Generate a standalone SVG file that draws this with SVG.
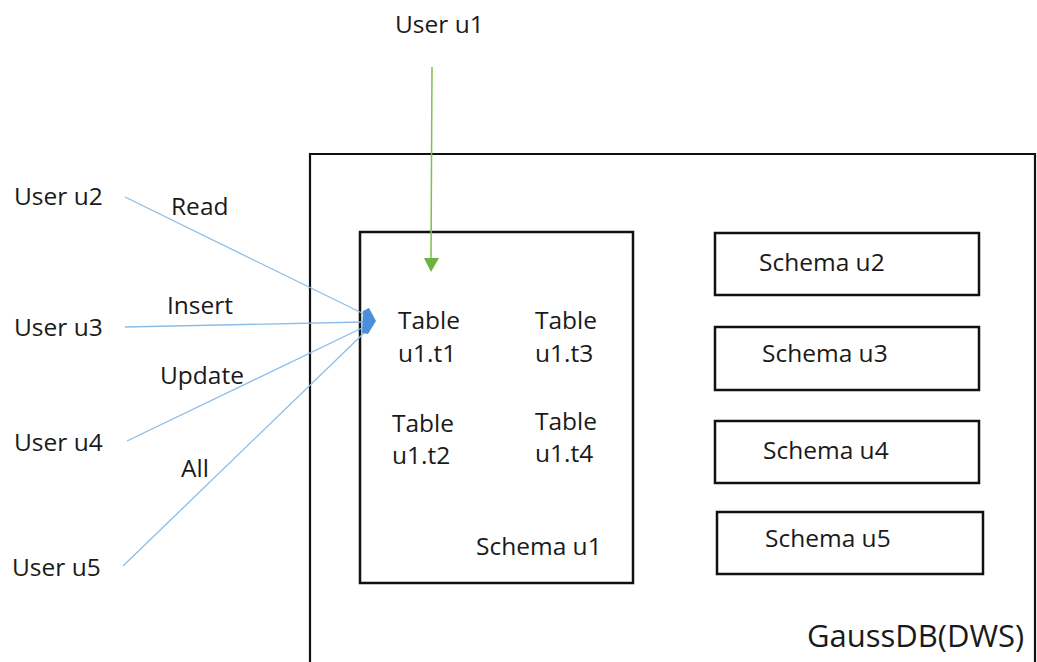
<svg xmlns="http://www.w3.org/2000/svg" width="1037" height="662" viewBox="0 0 1037 662">
<style>
text{font-family:"Open Sans","Noto Sans","Liberation Sans",sans-serif;font-size:24.5px;fill:#1a1a1a}
.box{fill:none;stroke:#111;stroke-width:2.5}
.blue{stroke:#8cbde8;stroke-width:1.3;fill:none}
</style>
<rect width="1037" height="662" fill="#fff"/>
<g id="gaussdb">
<path d="M310,664 L310,154 L1035,154 L1035,664" fill="none" stroke="#111" stroke-width="2.2"/>
<text x="807" y="647" style="font-size:31px">GaussDB(DWS)</text>
</g>
<g id="schema-u1">
<rect class="box" x="360" y="232" width="273" height="351"/>
<text x="476" y="555">Schema u1</text>
</g>
<g id="table-t1"><text x="398" y="329">Table</text><text x="398" y="362">u1.t1</text></g>
<g id="table-t3"><text x="535" y="329">Table</text><text x="535" y="362">u1.t3</text></g>
<g id="table-t2"><text x="392" y="432">Table</text><text x="392" y="464">u1.t2</text></g>
<g id="table-t4"><text x="535" y="430">Table</text><text x="535" y="462">u1.t4</text></g>
<g id="schema-u2"><rect class="box" x="715" y="233" width="264" height="62"/><text x="759" y="271">Schema u2</text></g>
<g id="schema-u3"><rect class="box" x="715" y="327" width="264" height="63"/><text x="762" y="362">Schema u3</text></g>
<g id="schema-u4"><rect class="box" x="715" y="421" width="264" height="62"/><text x="763" y="459">Schema u4</text></g>
<g id="schema-u5"><rect class="box" x="717" y="512" width="266" height="62"/><text x="765" y="547">Schema u5</text></g>
<g id="user-u1"><text x="395" y="33">User u1</text></g>
<g id="user-u2"><text x="14" y="205">User u2</text></g>
<g id="user-u3"><text x="14" y="336">User u3</text></g>
<g id="user-u4"><text x="14" y="451">User u4</text></g>
<g id="user-u5"><text x="12" y="576">User u5</text></g>
<g id="connectors">
<line x1="432" y1="67" x2="431" y2="259" stroke="#7cc24e" stroke-width="1.5"/>
<polygon points="424,258 439,258 431,272" fill="#6ab33e"/>
<line class="blue" x1="125" y1="197" x2="364" y2="314"/>
<line class="blue" x1="125" y1="327" x2="364" y2="322"/>
<line class="blue" x1="127" y1="441" x2="364" y2="327"/>
<line class="blue" x1="123" y1="566" x2="364" y2="333"/>
<polygon points="363,311 369,308 376,321 368,334 362,333" fill="#4a8fd8"/>
<text x="171" y="215">Read</text>
<text x="167" y="314">Insert</text>
<text x="160" y="384">Update</text>
<text x="181" y="477">All</text>
</g>
</svg>
